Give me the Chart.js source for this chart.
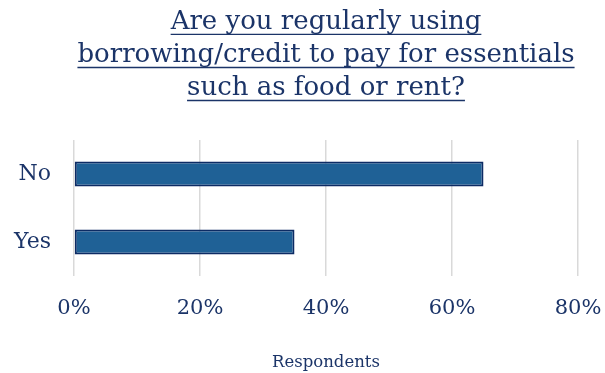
<!DOCTYPE html>
<html>
<head>
<meta charset="utf-8">
<script src="https://cdn.jsdelivr.net/npm/chart.js@4"></script>
<style>
  html, body { margin: 0; padding: 0; background: #fff; }
  #wrap { width: 605px; height: 373px; }
</style>
</head>
<body>
<div id="wrap"><canvas id="borrowChart" width="605" height="373"></canvas></div>
<script>
const categories = ['No', 'Yes'];
const shares = [65, 35];
const tickLabels = ['0%', '20%', '40%', '60%', '80%'];
const titleLines = ['Are you regularly using', 'borrowing/credit to pay for essentials', 'such as food or rent?'];

const navy = '#1b3468';
const serif = "'DejaVu Serif', serif";

// Chart.js can't underline the title, so draw the lines under it here
const underlineTitle = {
    id: 'underlineTitle',
    afterDraw(chart) {
        const t = chart.titleBlock;
        const opts = chart.options.plugins.title;
        const size = opts.font.size;
        const lh = size * opts.font.lineHeight;
        const ctx = chart.ctx;
        ctx.save();
        ctx.font = size + 'px ' + serif;
        ctx.strokeStyle = navy;
        ctx.lineWidth = 1.3;
        const cx = t.left + t.width / 2;
        titleLines.forEach((line, i) => {
            const w = Math.min(ctx.measureText(line).width, t.width);
            const y = t.top + opts.padding.top + lh / 2 + i * lh + size * 0.46;
            ctx.beginPath();
            ctx.moveTo(cx - w / 2, y);
            ctx.lineTo(cx + w / 2, y);
            ctx.stroke();
        });
        ctx.restore();
    }
};

const ctx = document.getElementById('borrowChart').getContext('2d');
const borrowChart = new Chart(ctx, {
    type: 'bar',
    data: {
        labels: categories,
        datasets: [{
            data: shares,
            backgroundColor: '#1f6196',
            borderColor: '#0c2b64',
            borderWidth: 2,
            borderSkipped: false,
            categoryPercentage: 1,
            barPercentage: 0.37
        }]
    },
    plugins: [underlineTitle],
    options: {
        indexAxis: 'y',
        responsive: false,
        animation: false,
        layout: { padding: { left: 10, right: 27, top: 6, bottom: 0 } },
        plugins: {
            legend: { display: false },
            tooltip: { enabled: false },
            title: {
                display: true,
                text: titleLines,
                fullSize: false,
                color: navy,
                font: { family: serif, size: 26, weight: 'normal', lineHeight: 1.27 },
                padding: { top: 0, bottom: 35 }
            }
        },
        scales: {
            x: {
                min: 0,
                max: 80,
                afterFit: (s) => { s.paddingLeft = 0; s.paddingRight = 0; },
                ticks: {
                    stepSize: 20,
                    color: navy,
                    padding: 20,
                    maxRotation: 0,
                    font: { family: serif, size: 21 },
                    callback: (v) => tickLabels[v / 20]
                },
                grid: { color: '#d9d9d9', lineWidth: 1.5, drawTicks: false },
                border: { display: false },
                title: {
                    display: true,
                    text: 'Respondents',
                    color: navy,
                    font: { family: serif, size: 16.5 },
                    padding: { top: 12, bottom: 0 }
                }
            },
            y: {
                afterFit: (s) => { s.width = 64; },
                ticks: {
                    color: navy,
                    padding: 23,
                    font: { family: serif, size: 22 }
                },
                grid: { display: false, drawTicks: false },
                border: { display: false }
            }
        }
    }
});
</script>
</body>
</html>
